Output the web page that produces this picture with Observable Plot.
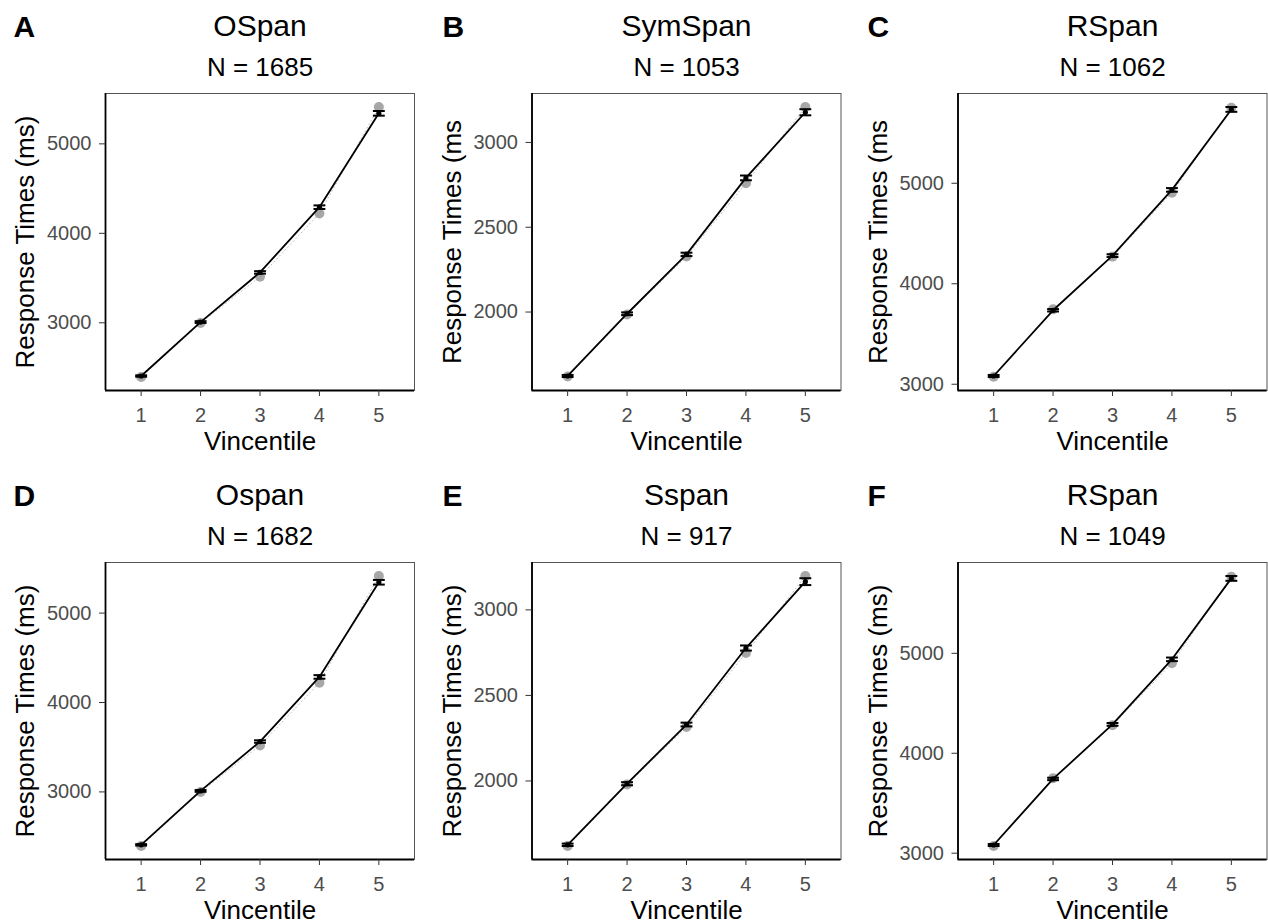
<!DOCTYPE html>
<html><head><meta charset="utf-8">
<script src="https://cdn.jsdelivr.net/npm/d3@7"></script>
<script src="https://cdn.jsdelivr.net/npm/@observablehq/plot@0.6"></script>
<style>
html,body{margin:0;padding:0;background:#fff;}
#wrap{position:relative;width:1268px;height:921px;overflow:hidden;background:#fff;}
#wrap svg{position:absolute;overflow:visible;}
</style></head><body><div id="wrap"></div>
<script>
// ---- data ----
const vincentiles = [1, 2, 3, 4, 5];
const panelLetters = ["A", "B", "C", "D", "E", "F"];
const taskNames = ["OSpan", "SymSpan", "RSpan", "Ospan", "Sspan", "RSpan"];
const sampleSizes = [1685, 1053, 1062, 1682, 917, 1049];
const yAxisTitles = ["Response Times (ms)", "Response Times (ms", "Response Times (ms",
                     "Response Times (ms)", "Response Times (ms)", "Response Times (ms)"];
const xAxisTitle = "Vincentile";

const yTicksOSpan = [3000, 4000, 5000];
const yTicksSymSpan = [2000, 2500, 3000];
const yTicksRSpan = [3000, 4000, 5000];

// model (black line, error bars) and observed (grey points)
const modelA = [2405, 3008, 3563, 4292, 5341];
const seA    = [8, 10, 14, 20, 26];
const obsA   = [2394, 2998, 3514, 4222, 5412];

const modelB = [1623, 1990, 2340, 2791, 3178];
const seB    = [6, 8, 10, 14, 18];
const obsB   = [1620, 1985, 2328, 2760, 3209];

const modelC = [3082, 3736, 4280, 4934, 5735];
const seC    = [10, 12, 14, 18, 24];
const obsC   = [3075, 3745, 4270, 4905, 5752];

const modelD = [2408, 3011, 3563, 4286, 5345];
const seD    = [8, 10, 14, 20, 26];
const obsD   = [2395, 3000, 3519, 4222, 5415];

const modelE = [1627, 1984, 2330, 2777, 3165];
const seE    = [7, 9, 11, 15, 20];
const obsE   = [1620, 1980, 2315, 2748, 3198];

const modelF = [3082, 3743, 4289, 4940, 5750];
const seF    = [10, 12, 14, 18, 24];
const obsF   = [3072, 3750, 4280, 4901, 5767];

const models = [modelA, modelB, modelC, modelD, modelE, modelF];
const ses = [seA, seB, seC, seD, seE, seF];
const observed = [obsA, obsB, obsC, obsD, obsE, obsF];
const yTicks = [yTicksOSpan, yTicksSymSpan, yTicksRSpan, yTicksOSpan, yTicksSymSpan, yTicksRSpan];

// ---- layout ----
const colX = [0, 423, 845];
const rowY = [0, 468.5];
const marginLefts = [105, 108.5, 112.5];
const frameW = 309;
const plotW = 423;
const mTop = 93, frameH = 297, mBottom = 70;
const letterX = [13, 19, 22];
const yTitleBaseline = [33, 37, 41.7];
const FONT = "'Liberation Sans', Arial, Helvetica, sans-serif";

const wrap = document.getElementById("wrap");

for (let i = 0; i < 6; i++) {
  const col = i % 3, row = Math.floor(i / 3);
  const ml = marginLefts[col];
  const mr = plotW - ml - frameW;
  const model = vincentiles.map((v, k) => ({v, y: models[i][k], lo: models[i][k] - ses[i][k], hi: models[i][k] + ses[i][k]}));
  const obs = vincentiles.map((v, k) => ({v, y: observed[i][k]}));
  const lo = Math.min(d3.min(model, d => d.lo), d3.min(obs, d => d.y));
  const hi = Math.max(d3.max(model, d => d.hi), d3.max(obs, d => d.y));
  const pad = (hi - lo) * 0.05;
  const yDom = [lo - pad, hi + pad];

  const chart = Plot.plot({
    width: plotW,
    height: mTop + frameH + mBottom,
    marginLeft: ml, marginRight: mr, marginTop: mTop, marginBottom: mBottom,
    style: {fontFamily: FONT, background: "transparent", overflow: "visible"},
    x: {domain: [0.4, 5.6]},
    y: {domain: yDom},
    marks: [
      Plot.frame({stroke: "#555", strokeWidth: 1}),
      Plot.ruleX([0.4], {stroke: "black", strokeWidth: 1.8}),
      Plot.ruleY([yDom[0]], {stroke: "black", strokeWidth: 1.8}),
      Plot.axisX({ticks: vincentiles, tickFormat: d3.format("d"), tickSize: 6, tickPadding: 11,
                  fontSize: 20, fill: "#4d4d4d", stroke: "#333", label: null}),
      Plot.axisY({ticks: yTicks[i], tickFormat: d3.format("d"), tickSize: 6, tickPadding: 8,
                  fontSize: 20, fill: "#4d4d4d", stroke: "#333", label: null}),
      // observed
      Plot.line(obs, {x: "v", y: "y", stroke: "#bdbdbd", strokeWidth: 1, strokeDasharray: "1,3"}),
      Plot.dot(obs, {x: "v", y: "y", r: 5, fill: "#8a8a8a", fillOpacity: 0.75, stroke: "none"}),
      // model
      Plot.line(model, {x: "v", y: "y", stroke: "black", strokeWidth: 1.8}),
      Plot.ruleX(model, {x: "v", y1: "lo", y2: "hi", stroke: "black", strokeWidth: 1.5}),
      Plot.link(model, {x1: d => d.v - 0.1, x2: d => d.v + 0.1, y1: "hi", y2: "hi", stroke: "black", strokeWidth: 2}),
      Plot.link(model, {x1: d => d.v - 0.1, x2: d => d.v + 0.1, y1: "lo", y2: "lo", stroke: "black", strokeWidth: 2}),
      Plot.dot(model, {x: "v", y: "y", r: 2.6, fill: "black", stroke: "none"}),
      // texts
      Plot.text([panelLetters[i]], {text: d => d, frameAnchor: "top-left", textAnchor: "start", lineAnchor: "middle",
                dx: letterX[col] - ml, dy: 36 - 0.32 * 30 - mTop, fontSize: 30, fontWeight: "bold", fill: "black"}),
      Plot.text([taskNames[i]], {text: d => d, frameAnchor: "top", textAnchor: "middle", lineAnchor: "middle",
                dy: 35 - 0.32 * 30 - mTop, fontSize: 30, fill: "black"}),
      Plot.text(["N = " + sampleSizes[i]], {text: d => d, frameAnchor: "top", textAnchor: "middle", lineAnchor: "middle",
                dy: 75 - 0.32 * 26 - mTop, fontSize: 26, fill: "black"}),
      Plot.text([yAxisTitles[i]], {text: d => d, frameAnchor: "left", rotate: -90, textAnchor: "middle", lineAnchor: "middle",
                dx: yTitleBaseline[col] - 0.32 * 26 - ml, fontSize: 26, fill: "black"}),
      Plot.text([xAxisTitle], {text: d => d, frameAnchor: "bottom", textAnchor: "middle", lineAnchor: "middle",
                dy: 449 - 0.32 * 26 - (mTop + frameH), fontSize: 26, fill: "black"})
    ]
  });
  chart.style.left = colX[col] + "px";
  chart.style.top = rowY[row] + "px";
  wrap.appendChild(chart);
}
</script>
</body></html>
